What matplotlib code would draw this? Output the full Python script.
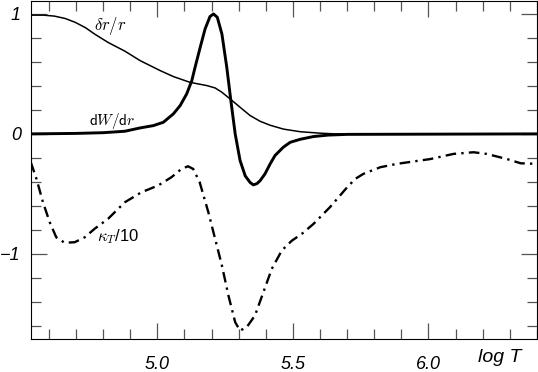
import numpy as np
import matplotlib.pyplot as plt
from matplotlib.ticker import MultipleLocator

# delta r / r (thin line)
x_dr = [4.534, 4.58, 4.62, 4.66, 4.697, 4.735, 4.77, 4.82, 4.88, 4.937, 5.01,
        5.059, 5.12, 5.182, 5.213, 5.238, 5.268, 5.305, 5.342, 5.379, 5.416,
        5.465, 5.527, 5.6, 5.655, 6.4]
y_dr = [0.99, 0.99, 0.982, 0.962, 0.93, 0.885, 0.83, 0.76, 0.69, 0.61, 0.528,
        0.478, 0.43, 0.403, 0.383, 0.347, 0.292, 0.222, 0.153, 0.105, 0.072,
        0.04, 0.018, 0.006, 0.0, 0.0]

# dW/dr (thick line)
x_dw = [4.534, 4.7, 4.8, 4.88, 4.937, 4.985, 5.022, 5.059, 5.084, 5.108, 5.127,
        5.139, 5.158, 5.176, 5.194, 5.207, 5.221, 5.238, 5.256, 5.271, 5.287,
        5.305, 5.324, 5.342, 5.354, 5.367, 5.379, 5.397, 5.416, 5.434, 5.465,
        5.49, 5.527, 5.576, 5.63, 5.70, 6.4]
y_dw = [0.0, 0.004, 0.01, 0.022, 0.05, 0.069, 0.097, 0.167, 0.236, 0.333, 0.444,
        0.555, 0.722, 0.875, 0.978, 1.0, 0.972, 0.833, 0.555, 0.278, 0.0,
        -0.222, -0.35, -0.405, -0.425, -0.415, -0.39, -0.333, -0.25, -0.18, -0.11,
        -0.07, -0.045, -0.022, -0.01, -0.004, 0.0]

# kappa_T / 10 (dash-dot)
x_k = [4.533, 4.554, 4.578, 4.603, 4.627, 4.658, 4.695, 4.732, 4.769, 4.818, 4.88,
       4.941, 5.003, 5.052, 5.089, 5.113, 5.132, 5.156, 5.188, 5.213, 5.238, 5.262,
       5.287, 5.305, 5.33, 5.36, 5.391, 5.422, 5.459, 5.496, 5.533, 5.576, 5.637,
       5.70, 5.73, 5.76, 5.822, 5.883, 6.006, 6.092, 6.166, 6.215, 6.29, 6.34, 6.40]
y_k = [-0.236, -0.375, -0.57, -0.737, -0.862, -0.908, -0.903, -0.862, -0.79, -0.708, -0.57,
       -0.487, -0.43, -0.361, -0.292, -0.27, -0.292, -0.403, -0.653, -0.875, -1.097, -1.347,
       -1.57, -1.64, -1.61, -1.514, -1.32, -1.125, -0.972, -0.89, -0.833, -0.75, -0.61,
       -0.445, -0.375, -0.333, -0.278, -0.25, -0.21, -0.167, -0.153, -0.167, -0.21, -0.245, -0.25]

plt.rcParams['font.family'] = ['Liberation Sans', 'DejaVu Sans']
plt.rcParams['mathtext.fontset'] = 'cm'

fig = plt.figure(figsize=(5.38, 3.72), dpi=100)
ax = fig.add_axes([0.0567, 0.0887, 0.9413, 0.908])

ax.plot(x_dr, y_dr, color='black', lw=1.1)
ax.plot(x_dw, y_dw, color='black', lw=2.1)
ax.plot(x_k, y_k, color='black', lw=1.7, linestyle=(0, (4.5, 2.2, 1, 2.2)))

ax.set_xlim(4.532, 6.40)
ax.set_ylim(-1.71, 1.106)

ax.xaxis.set_minor_locator(MultipleLocator(0.1))
ax.yaxis.set_minor_locator(MultipleLocator(0.2))
ax.set_xticks([5.0, 5.5, 6.0])
ax.set_xticklabels(['5.0', '5.5', '6.0'])
ax.set_yticks([-1, 0, 1])
ax.set_yticklabels(['\u22121', '0', '1'])

ax.tick_params(which='both', direction='in', top=True, right=True,
               color='#555555', width=0.9, labelsize=13)
ax.tick_params(which='major', length=11.5)
ax.tick_params(which='minor', length=7.2)
ax.tick_params(axis='x', which='major', pad=12)
ax.tick_params(axis='y', which='major', pad=7)
for lab in ax.get_xticklabels() + ax.get_yticklabels():
    lab.set_style('italic')

ax.text(4.825, 0.9, r'$\delta r/r$', fontsize=12, ha='center', va='center')
ax.text(4.833, 0.11, r'$\mathsf{d}W/\mathsf{d}r$', fontsize=11, ha='center', va='center')
ax.text(4.855, -0.855, r'$\kappa_T$/10', fontsize=12, ha='center', va='center')
ax.text(0.927, -0.055, 'log T', transform=ax.transAxes, ha='center', va='center',
        fontsize=14, style='italic')

fig.savefig('out.png', dpi=100)
